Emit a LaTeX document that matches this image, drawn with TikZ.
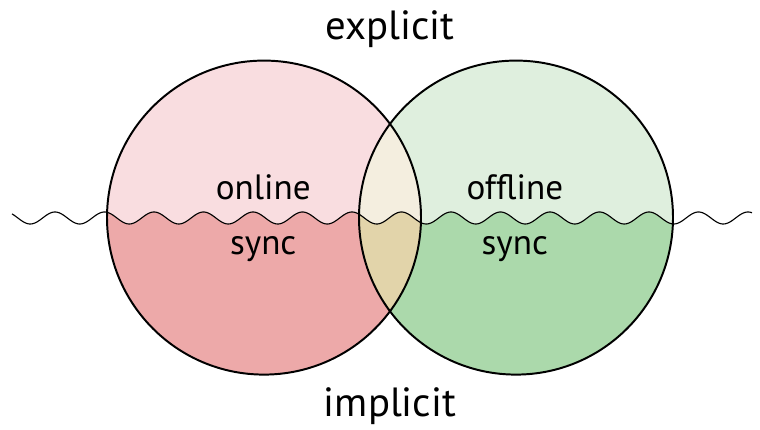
\documentclass[tikz,border=0pt]{standalone}
\usepackage{fontspec}
\setmainfont{PT Sans}
\usetikzlibrary{positioning,calc}

\definecolor{onlinelight}{RGB}{249,221,224}
\definecolor{onlinedark}{RGB}{237,169,169}
\definecolor{offlinelight}{RGB}{223,239,222}
\definecolor{offlinedark}{RGB}{171,217,171}
\definecolor{bothlight}{RGB}{244,238,223}
\definecolor{bothdark}{RGB}{226,212,170}

\begin{document}
\begin{tikzpicture}[
    outline/.style={draw=black, line width=1.4pt},
    wave/.style={draw=black, line width=0.8pt},
    axislabel/.style={font=\fontsize{29}{34}\selectfont, anchor=base},
    setlabel/.style={font=\fontsize{25}{30}\selectfont, anchor=base}]
    \useasboundingbox (0,0) rectangle (19,10.75);

    % Circle centres
    \coordinate (onlinec) at (6.6,5.31);
    \coordinate (offlinec) at (12.9,5.31);
    \def\rad{3.925}

    % Upper (explicit) fills
    \fill[onlinelight] (onlinec) circle (\rad);
    \fill[offlinelight] (offlinec) circle (\rad);
    \begin{scope}
        \clip (onlinec) circle (\rad);
        \fill[bothlight] (offlinec) circle (\rad);
    \end{scope}

    % Lower (implicit) fills, below the wave
    \begin{scope}
        \clip (0.3,0) -- plot[domain=0.3:18.8, samples=600] (\x, {5.3+0.15*cos(deg(2*pi*(\x-1.375)/1.2375))}) -- (18.8,0) -- cycle;
        \fill[onlinedark] (onlinec) circle (\rad);
        \fill[offlinedark] (offlinec) circle (\rad);
        \clip (onlinec) circle (\rad);
        \fill[bothdark] (offlinec) circle (\rad);
    \end{scope}

    % Wave
    \draw[wave] plot[domain=0.3:18.8, samples=600] (\x, {5.3+0.15*cos(deg(2*pi*(\x-1.375)/1.2375))});

    % Circles
    \draw[outline] (onlinec) circle (\rad);
    \draw[outline] (offlinec) circle (\rad);

    % Labels
    \node[axislabel] (explicit) at (9.75,9.75) {explicit};
    \node[axislabel] (implicit) at (9.75,0.325) {implicit};
    \node[setlabel] (online) at (6.58,5.75) {online};
    \node[setlabel] (onsync) at (6.58,4.375) {sync};
    \node[setlabel] (offline) at (12.87,5.75) {offline};
    \node[setlabel] (offsync) at (12.87,4.375) {sync};
\end{tikzpicture}
\end{document}
